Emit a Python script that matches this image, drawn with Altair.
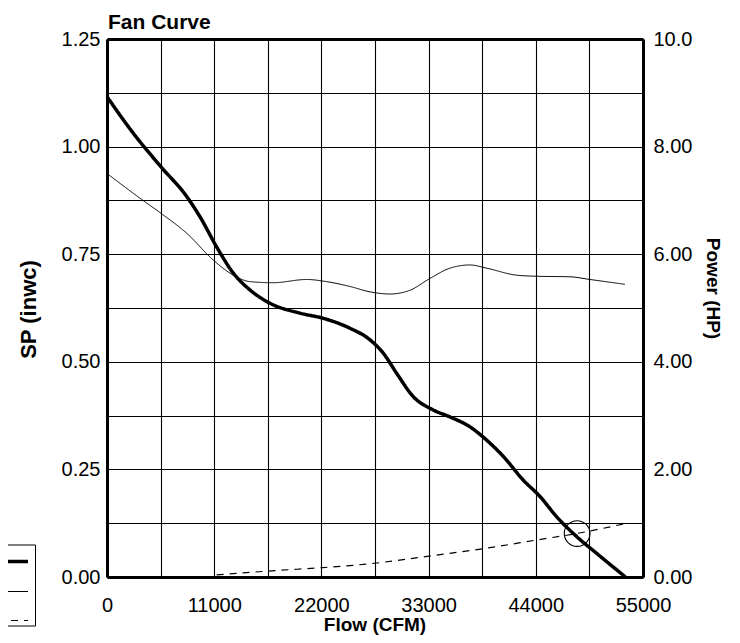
import altair as alt
import pandas as pd

# Static pressure (fan curve) - thick line
flow_sp = [0, 2700, 5540, 8180, 9540, 11250, 12960, 14670, 16730, 19800, 22200, 24930,
           26990, 28350, 29730, 31430, 33480, 35190, 37240, 38960, 40670, 42720, 44430,
           46140, 48190, 50240, 53200]
sp_values = [1.116, 1.031, 0.953, 0.884, 0.837, 0.767, 0.706, 0.667, 0.636, 0.613, 0.601, 0.578,
             0.551, 0.520, 0.473, 0.419, 0.388, 0.372, 0.349, 0.318, 0.280, 0.225, 0.187,
             0.140, 0.094, 0.055, 0.0]

# Power curve (HP) - thin line, right axis
flow_power = [0, 3390, 5540, 8180, 10910, 12960, 14670, 17060, 20480, 22540, 24930, 26990,
              29040, 31090, 33140, 35190, 37240, 38960, 42040, 44090, 47510, 49560, 53150]
power_values = [7.50, 7.04, 6.76, 6.39, 5.89, 5.61, 5.49, 5.47, 5.53, 5.49, 5.40, 5.30,
                5.26, 5.33, 5.55, 5.74, 5.80, 5.74, 5.61, 5.59, 5.58, 5.53, 5.44]

# System curve - dashed line
flow_system = [11250, 17400, 22200, 26640, 33830, 38960, 44090, 48190, 53150]
system_values = [0.005, 0.015, 0.022, 0.030, 0.051, 0.067, 0.086, 0.101, 0.124]

# Operating point
op_flow = [48240]
op_sp = [0.101]

series_names = ["SP", "Power", "System"]
series_widths = [3.5, 1.0, 1.2]
series_dashes = [[1, 0], [1, 0], [7, 6]]

x_grid = [i * 5500 for i in range(11)]
y_grid = [i * 0.125 for i in range(11)]
power_ticks = [0, 2, 4, 6, 8, 10]

FONT = "Liberation Sans"

sp_df = pd.DataFrame({"flow": flow_sp, "sp": sp_values, "series": series_names[0]})
pw_df = pd.DataFrame({"flow": flow_power, "power": power_values, "series": series_names[1]})
sys_df = pd.DataFrame({"flow": flow_system, "sp": system_values, "series": series_names[2]})
op_df = pd.DataFrame({"flow": op_flow, "sp": op_sp})

x_scale = alt.Scale(domain=[0, 55000], nice=False, zero=False)
y_scale = alt.Scale(domain=[0, 1.25], nice=False, zero=False)
p_scale = alt.Scale(domain=[0, 10], nice=False, zero=False)

# legend box (cropped at the left edge of the picture, as in the reference)
legend = alt.Legend(
    orient="none", legendX=-111, legendY=505.5, title=None,
    symbolType="stroke", symbolSize=900, symbolStrokeColor="black",
    labelExpr="''", labelOffset=0, rowPadding=7.5, padding=0,
    strokeColor="black", fillColor="white",
)
color_enc = alt.Color("series:N", scale=alt.Scale(domain=series_names,
                                                  range=["black"] * 3), legend=legend)
width_enc = alt.StrokeWidth("series:N", scale=alt.Scale(type="ordinal", domain=series_names,
                                                        range=series_widths), legend=legend)
dash_enc = alt.StrokeDash("series:N", scale=alt.Scale(domain=series_names,
                                                      range=series_dashes), legend=legend)

x_axis = alt.Axis(
    values=x_grid, grid=True, gridColor="black", gridWidth=1.1, gridOpacity=1,
    labelExpr="datum.value % 11000 == 0 ? format(datum.value, 'd') : ''",
    ticks=False, domain=True, domainColor="black", domainWidth=3,
    labelFlush=False, labelPadding=18, labelFontSize=20, labelFont=FONT,
    labelColor="black", title="Flow (CFM)", titleFont=FONT, titleFontSize=19,
    titleFontWeight="bold", titleColor="black", titleX=267.5, titleY=53,
    titleBaseline="alphabetic", titleAlign="center",
)
x_top_axis = alt.Axis(
    orient="top", values=x_grid, grid=False, labels=False, ticks=False,
    domain=True, domainColor="black", domainWidth=3, title=None,
)
y_axis = alt.Axis(
    values=y_grid, grid=True, gridColor="black", gridWidth=1.1, gridOpacity=1,
    labelExpr="(round(datum.value * 1000) % 250 == 0) ? format(datum.value, '.2f') : ''",
    ticks=False, domain=True, domainColor="black", domainWidth=3,
    labelPadding=7, labelFontSize=20, labelFont=FONT,
    labelColor="black", title="SP (inwc)", titleFont=FONT, titleFontSize=22,
    titleFontWeight="bold", titleColor="black", titleX=-72, titleY=270,
    titleAngle=270, titleBaseline="alphabetic", titleAlign="center",
)
p_axis = alt.Axis(
    orient="right", values=power_ticks, grid=False,
    labelExpr="datum.value == 10 ? '10.0' : format(datum.value, '.2f')",
    ticks=False, domain=True, domainColor="black", domainWidth=3,
    labelPadding=10, labelFontSize=20, labelFont=FONT,
    labelColor="black", title="Power (HP)", titleFont=FONT, titleFontSize=19,
    titleFontWeight="bold", titleColor="black", titleX=63.7, titleY=249,
    titleAngle=90, titleBaseline="alphabetic", titleAlign="center",
)

sp_line = alt.Chart(sp_df).mark_line(interpolate="monotone").encode(
    x=alt.X("flow:Q", scale=x_scale, axis=x_axis),
    y=alt.Y("sp:Q", scale=y_scale, axis=y_axis),
    color=color_enc, strokeWidth=width_enc, strokeDash=dash_enc,
)

sys_line = alt.Chart(sys_df).mark_line(interpolate="monotone").encode(
    x=alt.X("flow:Q", scale=x_scale),
    y=alt.Y("sp:Q", scale=y_scale),
    color=color_enc, strokeWidth=width_enc, strokeDash=dash_enc,
)

op_point = alt.Chart(op_df).mark_point(
    shape="circle", size=660, color="black", strokeWidth=1.1, filled=False, opacity=1
).encode(
    x=alt.X("flow:Q", scale=x_scale),
    y=alt.Y("sp:Q", scale=y_scale),
)

left = alt.layer(sp_line, sys_line, op_point)

pw_line = alt.Chart(pw_df).mark_line(interpolate="monotone").encode(
    x=alt.X("flow:Q", scale=x_scale, axis=x_top_axis),
    y=alt.Y("power:Q", scale=p_scale, axis=p_axis),
    color=color_enc, strokeWidth=width_enc, strokeDash=dash_enc,
)

chart = alt.layer(left, pw_line).resolve_scale(
    y="independent", x="independent"
).properties(
    width=536,
    height=538,
    title=alt.TitleParams(
        "Fan Curve", anchor="start", frame="group", font=FONT, fontSize=21,
        fontWeight="bold", color="black", offset=4, dx=1, dy=8,
    ),
    autosize=alt.AutoSizeParams(type="none"),
    padding={"left": 99, "top": 31, "right": 89, "bottom": 58},
).configure_view(
    stroke=None
).configure_legend(
    strokeWidth=3
).configure(background="white")

chart.save("out.html", embed_options={"renderer": "svg", "actions": False})
